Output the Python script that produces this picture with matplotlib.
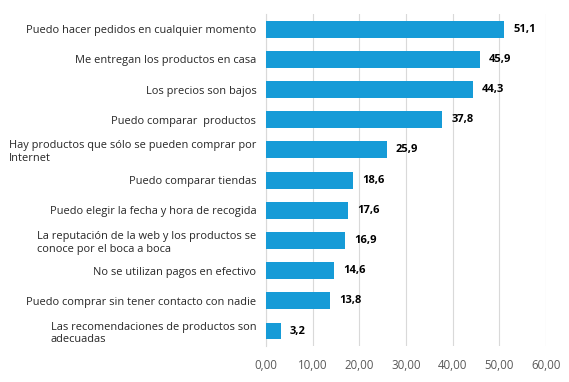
import matplotlib.pyplot as plt

categorias = [
    "Puedo hacer pedidos en cualquier momento",
    "Me entregan los productos en casa",
    "Los precios son bajos",
    "Puedo comparar  productos",
    "Hay productos que sólo se pueden comprar por\nInternet",
    "Puedo comparar tiendas",
    "Puedo elegir la fecha y hora de recogida",
    "La reputación de la web y los productos se\nconoce por el boca a boca",
    "No se utilizan pagos en efectivo",
    "Puedo comprar sin tener contacto con nadie",
    "Las recomendaciones de productos son\nadecuadas",
]
valores = [51.1, 45.9, 44.3, 37.8, 25.9, 18.6, 17.6, 16.9, 14.6, 13.8, 3.2]
ticks = [0, 10, 20, 30, 40, 50, 60]

plt.rcParams['font.family'] = ['Open Sans', 'DejaVu Sans']

fig = plt.figure(figsize=(5.69, 3.82), dpi=100)
ax = fig.add_axes([0.4675, 0.094, 0.492, 0.869])

pos = list(range(len(categorias)))
ax.barh(pos, valores, height=0.56, color='#169BD7', zorder=3)
for p, v in zip(pos, valores):
    ax.annotate(f"{v:.1f}".replace('.', ','), (v, p), xytext=(6.5, 0),
                textcoords='offset points', va='center', ha='left',
                fontsize=8, fontweight='bold', color='black')

ax.set_ylim(len(categorias) - 0.5, -0.5)
ax.set_xlim(0, 60)
ax.set_yticks(pos)
ax.set_yticklabels(categorias, fontsize=7.9, color='#262626')
for lbl in ax.get_yticklabels():
    lbl.set_multialignment('left')
ax.set_xticks(ticks)
ax.set_xticklabels([f"{t:.2f}".replace('.', ',') for t in ticks],
                   fontsize=8.3, color='#595959')
ax.tick_params(length=0)
ax.tick_params(axis='x', pad=9)
ax.tick_params(axis='y', pad=7)
ax.grid(axis='x', color='#D9D9D9', linewidth=0.8, zorder=0)
for s in ['top', 'right', 'bottom']:
    ax.spines[s].set_visible(False)
ax.spines['left'].set_color('#D9D9D9')
ax.spines['left'].set_linewidth(0.8)

fig.savefig('out.png', dpi=100)
